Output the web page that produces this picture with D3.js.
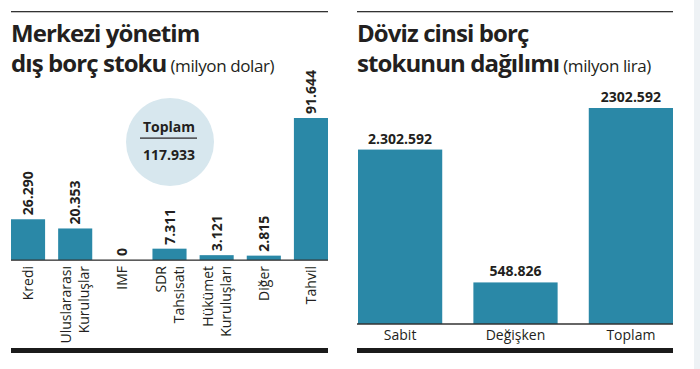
<!DOCTYPE html>
<html>
<head>
<meta charset="utf-8">
<script src="https://cdn.jsdelivr.net/npm/d3@7"></script>
<style>
  body { margin: 0; background: #ffffff; }
  text { font-family: "Open Sans", "Noto Sans", sans-serif; fill: #231f20; }
</style>
</head>
<body>
<div id="chart"></div>
<script>
// left chart data
var leftCategories = [
  ["Kredi"],
  ["Uluslararası", "Kuruluşlar"],
  ["IMF"],
  ["SDR", "Tahsisatı"],
  ["Hükümet", "Kuruluşları"],
  ["Diğer"],
  ["Tahvil"]
];
var leftValues = [26290, 20353, 0, 7311, 3121, 2815, 91644];
var leftLabels = ["26.290", "20.353", "0", "7.311", "3.121", "2.815", "91.644"];
var totalLabel = "117.933";

// right chart data
var rightCategories = ["Sabit", "Değişken", "Toplam"];
var rightValues = [2302.592, 548.826, 2851.418];
var rightLabels = ["2.302.592", "548.826", "2302.592"];

var barColor = "#2a88a7";

var svg = d3
  .select("#chart")
  .append("svg")
  .attr("width", 700)
  .attr("height", 369);

// faint page edge on the right
svg
  .append("rect")
  .attr("x", 694)
  .attr("y", 0)
  .attr("width", 6)
  .attr("height", 369)
  .attr("fill", "#eef2f5");

// draws the rules and title for one panel
function panel(x0, x1, line1, line2, unit) {
  svg
    .append("rect")
    .attr("x", x0)
    .attr("y", 11)
    .attr("width", x1 - x0)
    .attr("height", 1.3)
    .attr("fill", "#333");
  svg
    .append("rect")
    .attr("x", x0)
    .attr("y", 348)
    .attr("width", x1 - x0)
    .attr("height", 5)
    .attr("fill", "#1b1b1b");
  svg
    .append("text")
    .attr("x", x0)
    .attr("y", 42)
    .style("font-size", "24px")
    .style("font-weight", "700")
    .style("letter-spacing", "-0.9px")
    .text(line1);
  var t = svg
    .append("text")
    .attr("x", x0)
    .attr("y", 72)
    .style("font-size", "24px")
    .style("font-weight", "700")
    .style("letter-spacing", "-0.9px")
    .text(line2);
  t.append("tspan")
    .style("font-size", "17px")
    .style("font-weight", "400")
    .style("letter-spacing", "-0.4px")
    .text(" " + unit);
}

panel(11, 328, "Merkezi yönetim", "dış borç stoku", "(milyon dolar)");
panel(357, 673, "Döviz cinsi borç", "stokunun dağılımı", "(milyon lira)");

// left chart scales
var x1 = d3
  .scaleBand()
  .domain(d3.range(leftValues.length))
  .range([11, 328])
  .paddingInner(0.277)
  .paddingOuter(0);
var y1 = d3
  .scaleLinear()
  .domain([0, 91644])
  .range([260, 118]);

// total circle
svg
  .append("circle")
  .attr("cx", 170)
  .attr("cy", 142)
  .attr("r", 44)
  .attr("fill", "#d7e7ee");
svg
  .append("text")
  .attr("x", 169)
  .attr("y", 132)
  .attr("text-anchor", "middle")
  .style("font-size", "14px")
  .style("font-weight", "700")
  .text("Toplam");
svg
  .append("rect")
  .attr("x", 140)
  .attr("y", 137.5)
  .attr("width", 57)
  .attr("height", 1.2)
  .attr("fill", "#231f20");
svg
  .append("text")
  .attr("x", 169)
  .attr("y", 160)
  .attr("text-anchor", "middle")
  .style("font-size", "14px")
  .style("font-weight", "700")
  .text(totalLabel);

// left bars
svg
  .selectAll(".lbar")
  .data(leftValues)
  .enter()
  .append("rect")
  .attr("class", "lbar")
  .attr("x", (d, i) => x1(i))
  .attr("y", d => y1(d))
  .attr("width", x1.bandwidth())
  .attr("height", d => y1(0) - y1(d))
  .attr("fill", barColor);

// rotated value labels
svg
  .selectAll(".lval")
  .data(leftValues)
  .enter()
  .append("text")
  .attr("class", "lval")
  .attr("transform", (d, i) =>
    "translate(" + (x1(i) + x1.bandwidth() / 2 + 5) + "," + (y1(d) - 4) + ") rotate(-90)")
  .style("font-size", "14px")
  .style("font-weight", "700")
  .text((d, i) => leftLabels[i]);

// rotated category labels, one or two lines
leftCategories.forEach(function(lines, i) {
  var cx = x1(i) + x1.bandwidth() / 2;
  lines.forEach(function(s, j) {
    var off = (j - (lines.length - 1) / 2) * 18;
    svg
      .append("text")
      .attr("transform", "translate(" + (cx + off + 5) + ",266) rotate(-90)")
      .attr("text-anchor", "end")
      .style("font-size", "14px")
      .text(s);
  });
});

// left axis line
svg
  .append("rect")
  .attr("x", 11)
  .attr("y", 259.5)
  .attr("width", 317)
  .attr("height", 1.3)
  .attr("fill", "#333");

// right chart scales
var x2 = d3
  .scaleBand()
  .domain(rightCategories)
  .range([358, 673])
  .paddingInner(0.27)
  .paddingOuter(0);
var y2 = d3
  .scaleLinear()
  .domain([0, 2851.418])
  .range([324, 108]);

svg
  .selectAll(".rbar")
  .data(rightValues)
  .enter()
  .append("rect")
  .attr("class", "rbar")
  .attr("x", (d, i) => x2(rightCategories[i]))
  .attr("y", d => y2(d))
  .attr("width", x2.bandwidth())
  .attr("height", d => y2(0) - y2(d))
  .attr("fill", barColor);

svg
  .selectAll(".rval")
  .data(rightValues)
  .enter()
  .append("text")
  .attr("class", "rval")
  .attr("x", (d, i) => x2(rightCategories[i]) + x2.bandwidth() / 2)
  .attr("y", d => y2(d) - 6)
  .attr("text-anchor", "middle")
  .style("font-size", "14px")
  .style("font-weight", "700")
  .text((d, i) => rightLabels[i]);

// right axis
svg
  .append("g")
  .attr("transform", "translate(0,324)")
  .call(d3.axisBottom(x2).tickSize(0).tickPadding(6))
  .call(g => g.select(".domain").attr("stroke", "#333").attr("stroke-width", 1.3).attr("d", "M357,0H673"))
  .call(g => g.selectAll("text").style("font-size", "14px").attr("fill", "#231f20"));
</script>
</body>
</html>
